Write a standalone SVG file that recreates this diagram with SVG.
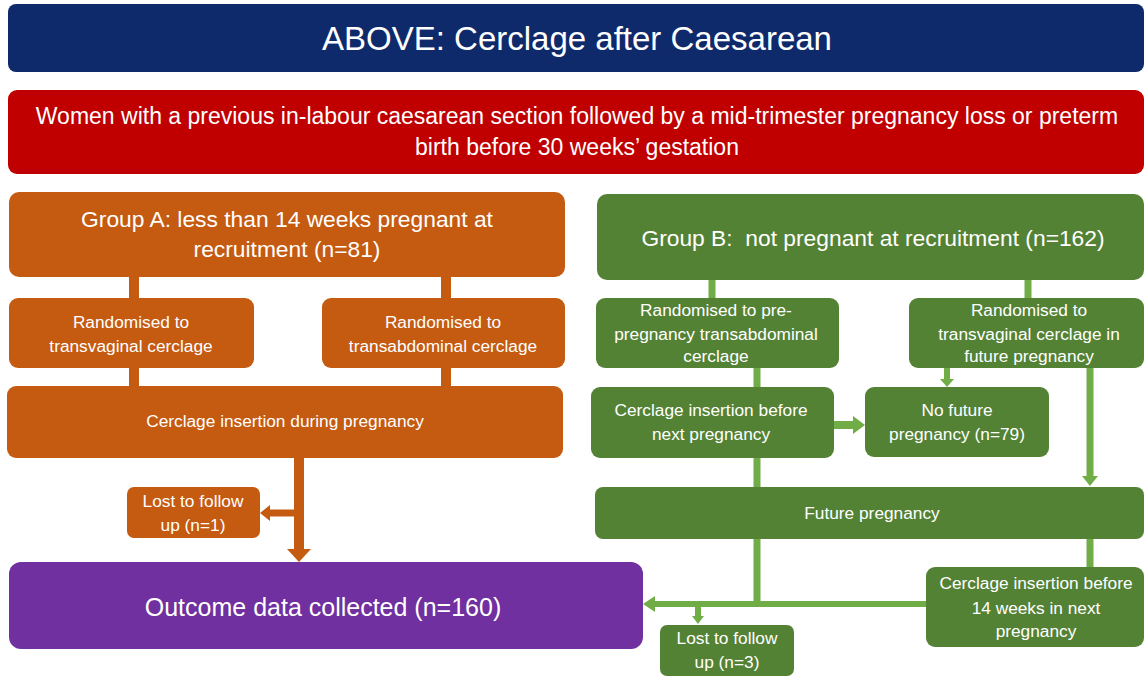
<svg xmlns="http://www.w3.org/2000/svg" width="1146" height="676" viewBox="0 0 1146 676">
<style>
text{font-family:"Liberation Sans",Arial,sans-serif;fill:#ffffff;text-anchor:middle}
.or{fill:#c55a11}
.gn{fill:#548235}
.oc{stroke:#c55a11;fill:none}
.gc{stroke:#70ad47;fill:none}
.oh{fill:#c55a11}
.gh{fill:#70ad47}
.t15{font-size:17.3px}
.t20{font-size:22.8px}
</style>
<rect width="1146" height="676" fill="#ffffff"/>
<g id="connectors">
  <line class="oc" stroke-width="10" x1="134" y1="276" x2="134" y2="299"/>
  <line class="oc" stroke-width="10" x1="446" y1="276" x2="446" y2="299"/>
  <line class="oc" stroke-width="10" x1="134" y1="367" x2="134" y2="387"/>
  <line class="oc" stroke-width="10" x1="446" y1="367" x2="446" y2="387"/>
  <line class="oc" stroke-width="10" x1="299" y1="457" x2="299" y2="550"/>
  <polygon class="oh" points="287,549 311,549 299,562"/>
  <line class="oc" stroke-width="7" x1="299" y1="513" x2="269" y2="513"/>
  <polygon class="oh" points="270,505 270,521 260,513"/>

  <line class="gc" stroke-width="7" x1="712" y1="279" x2="712" y2="299"/>
  <line class="gc" stroke-width="7" x1="1028" y1="279" x2="1028" y2="299"/>
  <line class="gc" stroke-width="7" x1="757" y1="367" x2="757" y2="388"/>
  <line class="gc" stroke-width="7" x1="757" y1="457" x2="757" y2="488"/>
  <line class="gc" stroke-width="8" x1="833" y1="425" x2="854" y2="425"/>
  <polygon class="gh" points="853,416 853,434 865,425"/>
  <line class="gc" stroke-width="6" x1="947" y1="367" x2="947" y2="380"/>
  <polygon class="gh" points="940,379 954,379 947,387"/>
  <line class="gc" stroke-width="7" x1="1090" y1="367" x2="1090" y2="477"/>
  <polygon class="gh" points="1082,476 1098,476 1090,486"/>
  <line class="gc" stroke-width="7" x1="757" y1="538" x2="757" y2="607"/>
  <line class="gc" stroke-width="6" x1="927" y1="604" x2="654" y2="604"/>
  <polygon class="gh" points="655,596 655,612 643,604"/>
  <line class="gc" stroke-width="7" x1="1090" y1="538" x2="1090" y2="568"/>
  <line class="gc" stroke-width="6" x1="698" y1="604" x2="698" y2="617"/>
  <polygon class="gh" points="692,616 704,616 698,624"/>
</g>
<g id="title">
  <rect x="8" y="4" width="1136" height="68" rx="8" fill="#0f2a6b"/>
  <text x="577" y="50" font-size="33">ABOVE: Cerclage after Caesarean</text>
</g>
<g id="population">
  <rect x="8" y="90" width="1136" height="84" rx="9" fill="#c00000"/>
  <text x="577" y="124" font-size="23">Women with a previous in-labour caesarean section followed by a mid-trimester pregnancy loss or preterm</text>
  <text x="577" y="155" font-size="23">birth before 30 weeks’ gestation</text>
</g>
<g id="groupA">
  <rect class="or" x="9" y="192" width="556" height="85" rx="10"/>
  <text x="287" y="227" class="t20">Group A: less than 14 weeks pregnant at</text>
  <text x="287" y="257" class="t20">recruitment (n=81)</text>
</g>
<g id="randA-TV">
  <rect class="or" x="9" y="298" width="245" height="70" rx="9"/>
  <text x="131" y="328" class="t15">Randomised to</text>
  <text x="131" y="352" class="t15">transvaginal cerclage</text>
</g>
<g id="randA-TA">
  <rect class="or" x="322" y="298" width="243" height="70" rx="9"/>
  <text x="443" y="328" class="t15">Randomised to</text>
  <text x="443" y="352" class="t15">transabdominal cerclage</text>
</g>
<g id="cerclageA">
  <rect class="or" x="7" y="386" width="556" height="72" rx="9"/>
  <text x="285" y="427" class="t15">Cerclage insertion during pregnancy</text>
</g>
<g id="lostA">
  <rect class="or" x="127" y="487" width="133" height="51" rx="7"/>
  <text x="193" y="507" class="t15">Lost to follow</text>
  <text x="193" y="531" class="t15">up (n=1)</text>
</g>
<g id="outcome">
  <rect x="9" y="562" width="634" height="87" rx="12" fill="#7030a0"/>
  <text x="323" y="616" font-size="25">Outcome data collected (n=160)</text>
</g>
<g id="groupB">
  <rect class="gn" x="597" y="194" width="547" height="86" rx="10"/>
  <text x="873" y="246" class="t20" xml:space="preserve">Group B:  not pregnant at recruitment (n=162)</text>
</g>
<g id="randB-TA">
  <rect class="gn" x="596" y="298" width="243" height="70" rx="9"/>
  <text x="716" y="316" class="t15">Randomised to pre-</text>
  <text x="716" y="340" class="t15">pregnancy transabdominal</text>
  <text x="716" y="362" class="t15">cerclage</text>
</g>
<g id="randB-TV">
  <rect class="gn" x="909" y="298" width="235" height="70" rx="9"/>
  <text x="1029" y="316" class="t15">Randomised to</text>
  <text x="1029" y="340" class="t15">transvaginal cerclage in</text>
  <text x="1029" y="362" class="t15">future pregnancy</text>
</g>
<g id="cerclageB-pre">
  <rect class="gn" x="591" y="387" width="243" height="71" rx="9"/>
  <text x="711" y="416" class="t15">Cerclage insertion before</text>
  <text x="711" y="440" class="t15">next pregnancy</text>
</g>
<g id="noFuture">
  <rect class="gn" x="865" y="387" width="184" height="70" rx="9"/>
  <text x="957" y="416" class="t15">No future</text>
  <text x="957" y="440" class="t15">pregnancy (n=79)</text>
</g>
<g id="futurePregnancy">
  <rect class="gn" x="595" y="487" width="549" height="52" rx="8"/>
  <text x="872" y="519" class="t15">Future pregnancy</text>
</g>
<g id="cerclageB-14">
  <rect class="gn" x="926" y="567" width="218" height="80" rx="9"/>
  <text x="1036" y="589" class="t15">Cerclage insertion before</text>
  <text x="1036" y="614" class="t15">14 weeks in next</text>
  <text x="1036" y="637" class="t15">pregnancy</text>
</g>
<g id="lostB">
  <rect class="gn" x="660" y="625" width="134" height="51" rx="7"/>
  <text x="727" y="644" class="t15">Lost to follow</text>
  <text x="727" y="668" class="t15">up (n=3)</text>
</g>
</svg>
